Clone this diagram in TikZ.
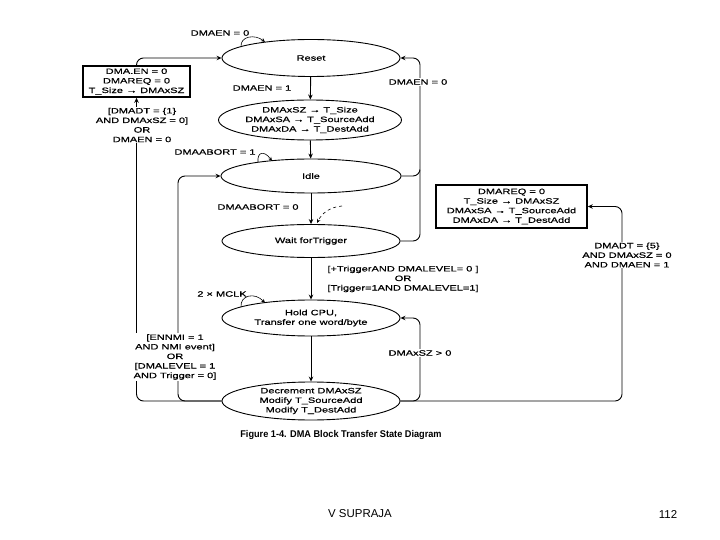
\documentclass[tikz,border=0pt]{standalone}
\usepackage{fontspec}
\setmainfont{Liberation Sans}[FakeStretch=1.42,FakeBold=0.6]
\newfontfamily\plainfont{Liberation Sans}
\newfontfamily\capfont{Liberation Sans Bold}[FakeStretch=0.94]
\usetikzlibrary{shapes.geometric,arrows.meta,calc}
\tikzset{
  st/.style={draw, ellipse, line width=0.9pt, inner sep=0pt, align=center, font=\fontsize{7.8}{9.6}\selectfont},
  bx/.style={draw, rectangle, line width=1.6pt, inner sep=0pt, align=center, font=\fontsize{7.8}{9.6}\selectfont},
  lab/.style={align=center, inner sep=1pt, font=\fontsize{7.8}{9.6}\selectfont},
  wlab/.style={lab, fill=white},
  arr/.style={line width=0.9pt, -{Stealth[length=5pt,width=4.5pt]}},
  ln/.style={line width=0.9pt},
  loop/.style={line width=0.6pt, -{Stealth[length=4pt,width=3.5pt]}},
}
\begin{document}
\begin{tikzpicture}[x=1bp,y=-1bp]
\useasboundingbox (0,0) rectangle (720,540);
% states
\node[st, minimum width=178bp, minimum height=37bp] (reset) at (311,58) {Reset};
\node[st, minimum width=176bp, minimum height=40bp] (setup) at (310,120) {DMAxSZ → T\_Size\\DMAxSA → T\_SourceAdd\\DMAxDA → T\_DestAdd};
\node[st, minimum width=180bp, minimum height=34bp] (idle) at (311,176) {Idle};
\node[st, minimum width=178bp, minimum height=33bp] (wait) at (311,241) {Wait forTrigger};
\node[st, minimum width=178bp, minimum height=36bp] (hold) at (311,318) {Hold CPU,\\Transfer one word/byte};
\node[st, minimum width=178bp, minimum height=38bp] (dec) at (311,401) {Decrement DMAxSZ\\Modify T\_SourceAdd\\Modify T\_DestAdd};
% boxes
\node[bx, minimum width=107bp, minimum height=31bp] (box1) at (136.5,81.5) {DMA.EN = 0\\DMAREQ = 0\\T\_Size → DMAxSZ};
\node[bx, minimum width=151bp, minimum height=43bp] (box2) at (511.5,206.5) {DMAREQ = 0\\T\_Size → DMAxSZ\\DMAxSA → T\_SourceAdd\\DMAxDA → T\_DestAdd};
% coordinates
\coordinate (rc) at (420,58);
\coordinate (lc) at (178,176);
\coordinate (hc) at (420,318);
\coordinate (bc) at (622,206.5);
% main chain
\draw[arr] (reset) -- (setup);
\draw[arr] (setup) -- (idle);
\draw[arr] (idle) -- (wait);
\draw[arr] (wait) -- (hold);
\draw[arr] (hold) -- (dec);
% box1 to reset
\draw[arr, rounded corners=7pt] (box1.north) |- (reset.west);
% decrement back-edges left
\draw[arr, rounded corners=7pt] (dec.west) -| (box1.south);
\draw[arr, rounded corners=7pt] (dec.west) -| (lc) -- (idle.west);
% idle / wait to reset
\draw[arr, rounded corners=7pt] (idle.east) -| (rc) -- (reset.east);
\draw[ln, rounded corners=7pt] (wait.east) -| (420,170);
% decrement to hold
\draw[arr, rounded corners=7pt] (dec.east) -| (hc) -- (hold.east);
% decrement to box2
\draw[arr, rounded corners=7pt] (dec.east) -| (bc) -- (box2.east);
% self-loop marks
\draw[loop] (241,47) .. controls (240,36) and (255,34) .. (265,42);
\draw[loop] (258,162) .. controls (257,152) and (264,150) .. (272,161);
\draw[loop] (241,307) .. controls (240,295) and (255,292) .. (265,303);
\draw[loop, dashed] (342,206) .. controls (330,207) and (322,213) .. (317,223);
% labels
\node[lab] (l1) at (220,33) {DMAEN = 0};
\node[lab] (l2) at (262,88) {DMAEN = 1};
\node[wlab] (l3) at (142,125) {{[}DMADT = \{1\}\\AND DMAxSZ = 0{]}\\OR\\DMAEN = 0};
\node[lab] (l4) at (215,152) {DMAABORT = 1};
\node[lab] (l5) at (258,207) {DMAABORT = 0};
\node[wlab] (l6) at (418,82) {DMAEN = 0};
\node[wlab] (l7) at (627,255) {DMADT = \{5\}\\AND DMAxSZ = 0\\AND DMAEN = 1};
\node[lab] (l8) at (403,279) {{[}+TriggerAND DMALEVEL= 0 {]}\\OR\\{[}Trigger=1AND DMALEVEL=1{]}};
\node[lab] (l9) at (222,294) {2 × MCLK};
\node[wlab] (l10) at (175,357) {{[}ENNMI = 1\\AND NMI event{]}\\OR\\{[}DMALEVEL = 1\\AND Trigger = 0{]}};
\node[wlab] (l11) at (420,353) {DMAxSZ > 0};
% caption and footer
\node[font=\capfont\fontsize{9.8}{11}\selectfont] (cap) at (341,435) {Figure 1-4. DMA Block Transfer State Diagram};
\node[font=\plainfont\fontsize{11.5}{13}\selectfont] (f1) at (360,514) {V SUPRAJA};
\node[font=\plainfont\fontsize{11.5}{13}\selectfont] (f2) at (668,514) {112};
\end{tikzpicture}
\end{document}
